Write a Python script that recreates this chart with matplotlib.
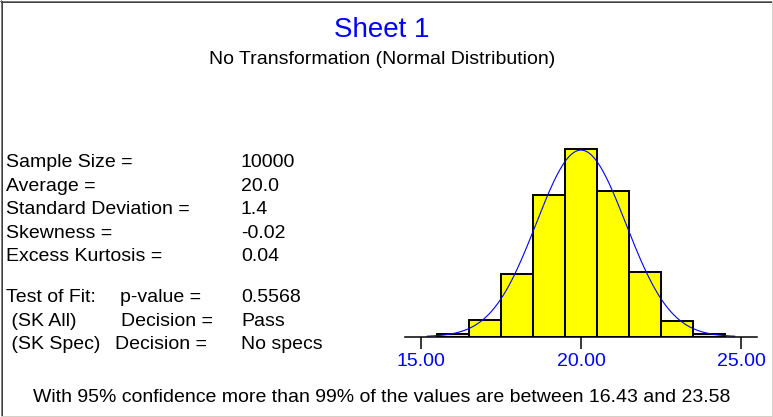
import numpy as np
import matplotlib
matplotlib.use("Agg")
import matplotlib.pyplot as plt
from matplotlib.lines import Line2D

# histogram data
bin_centers = [16, 17, 18, 19, 20, 21, 22, 23, 24]
bin_counts = [41, 254, 957, 2163, 2860, 2224, 982, 239, 36]
bin_width = 1.0

sample_size = 10000
mean = 20.0
std_dev = 1.4
curve_range = (15.2, 24.8)

tick_values = [15, 20, 25]
tick_labels = ["15.00", "20.00", "25.00"]

stat_labels = ["Sample Size =", "Average =", "Standard Deviation =",
               "Skewness =", "Excess Kurtosis ="]
stat_values = ["10000", "20.0", "1.4", "-0.02", "0.04"]

fit_labels = ["Test of Fit:", " (SK All)", " (SK Spec)"]
fit_middle = ["p-value =", "Decision =", "Decision ="]
fit_values = ["0.5568", "Pass", "No specs"]

title = "Sheet 1"
subtitle = "No Transformation (Normal Distribution)"
footer = "With 95% confidence more than 99% of the values are between 16.43 and 23.58"

W, H = 773, 417
plt.rcParams['font.family'] = ['Liberation Sans', 'DejaVu Sans']

fig = plt.figure(figsize=(W / 100, H / 100), dpi=100)
fig.patch.set_facecolor("white")


def fx(px):
    return px / W


def fy(py):
    # pixel row from the top -> figure fraction
    return 1 - py / H


# titles
fig.text(fx(382), fy(36.7), title, color="#0000FF", fontsize=20,
         ha="center", va="baseline")
fig.text(fx(382), fy(64), subtitle, color="black", fontsize=14,
         ha="center", va="baseline")

# stats block
for i, (lab, val) in enumerate(zip(stat_labels, stat_values)):
    base = 167.3 + i * 23.5
    fig.text(fx(6), fy(base), lab, fontsize=14, va="baseline")
    fig.text(fx(241), fy(base), val, fontsize=14, va="baseline")

mid_x = [120, 121, 115]
for i, (lab, mid, val) in enumerate(zip(fit_labels, fit_middle, fit_values)):
    base = 302.3 + i * 23.5
    fig.text(fx(6), fy(base), lab, fontsize=14, va="baseline")
    fig.text(fx(mid_x[i]), fy(base), mid, fontsize=14, va="baseline")
    fig.text(fx(241), fy(base), val, fontsize=14, va="baseline")

fig.text(fx(382), fy(401.6), footer, fontsize=14, ha="center", va="baseline")

# histogram
ax = fig.add_axes([fx(405), (H - 336.7) / H, 352 / W, 196.5 / H])
ax.bar(bin_centers, bin_counts, width=bin_width, color="#FFFF00",
       edgecolor="black", linewidth=1.4, zorder=2)

xs = np.linspace(curve_range[0], curve_range[1], 300)
ys = sample_size * bin_width * np.exp(-0.5 * ((xs - mean) / std_dev) ** 2) / (std_dev * np.sqrt(2 * np.pi))
ax.plot(xs, ys, color="#0000FF", linewidth=0.8, zorder=3)

ax.set_xlim(14.5, 25.5)
ax.set_ylim(0, 3000)
ax.set_facecolor("none")
for side in ["left", "right", "top"]:
    ax.spines[side].set_visible(False)
ax.spines["bottom"].set_linewidth(1.1)
ax.spines["bottom"].set_zorder(4)
ax.set_yticks([])
ax.set_xticks(tick_values)
ax.set_xticklabels(tick_labels)
ax.tick_params(axis="x", direction="out", length=8.4, width=1.1,
               colors="black", labelcolor="#0000FF", labelsize=14, pad=3)

# sunken window frame
frame = [
    ((0, W), (0.5, 0.5), "#808080"),
    ((0.5, 0.5), (0, H), "#808080"),
    ((1, W - 1), (1.5, 1.5), "#404040"),
    ((1.5, 1.5), (1, H - 1), "#404040"),
    ((1, W - 1), (H - 1.5, H - 1.5), "#D4D0C8"),
    ((W - 1.5, W - 1.5), (1, H - 1), "#D4D0C8"),
]
for (x0, x1), (y0, y1), col in frame:
    fig.add_artist(Line2D([fx(x0), fx(x1)], [fy(y0), fy(y1)], color=col,
                          linewidth=0.72, antialiased=False,
                          transform=fig.transFigure))

fig.savefig("out.png", dpi=100, facecolor="white")
